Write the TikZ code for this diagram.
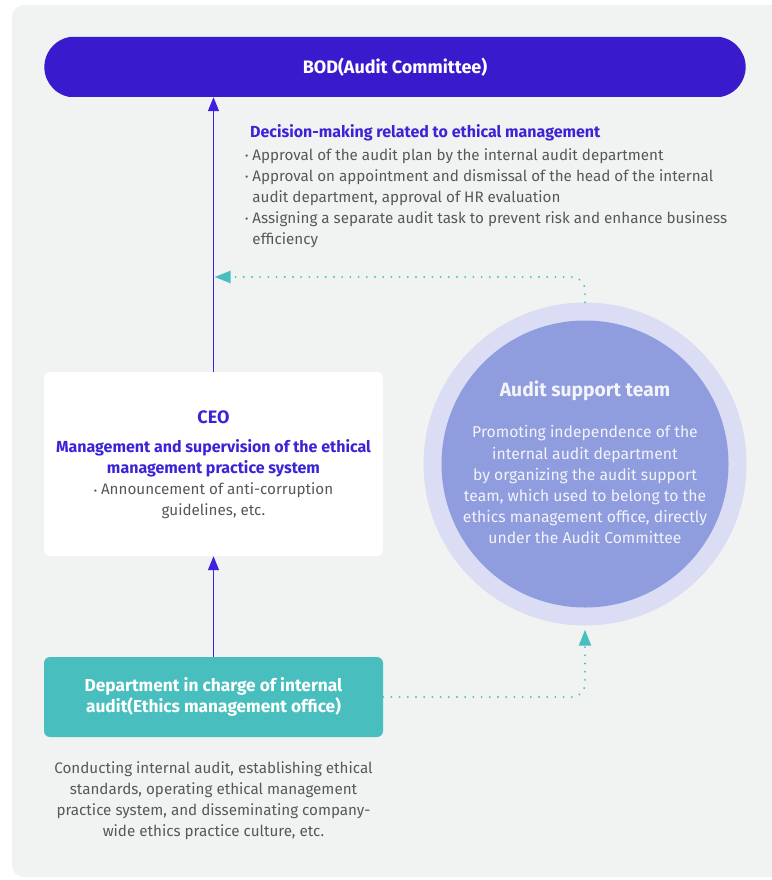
\documentclass[tikz,border=0pt]{standalone}
\usepackage{fontspec}
\setmainfont{Fira Sans}
\usetikzlibrary{arrows.meta,shapes.misc,calc}
\definecolor{bodblue}{HTML}{3A1ACD}
\definecolor{lineblue}{HTML}{4020E0}
\definecolor{txtblue}{HTML}{3B24D6}
\definecolor{tealc}{HTML}{48BFBE}
\definecolor{panelc}{HTML}{F1F3F2}
\definecolor{grytxt}{HTML}{585858}
\definecolor{ringout}{HTML}{DADDF3}
\definecolor{ringin}{HTML}{8F9CDD}
\definecolor{circtxt}{HTML}{F2F3FB}
\newcommand{\bul}{\raisebox{0.6pt}{\fontsize{10}{10}\selectfont•}}
\newcommand{\bluebold}{\bfseries\color{txtblue}\fontsize{16}{21}\selectfont}
\tikzset{
  bodbar/.style={rounded rectangle, rounded rectangle arc length=160, fill=bodblue,
    minimum width=708pt, minimum height=60pt, text=white,
    font=\bfseries\fontsize{18}{20}\selectfont},
  whitebox/.style={fill=white, rounded corners=6pt, minimum width=339pt, minimum height=184pt, inner sep=0pt},
  tealbox/.style={fill=tealc, rounded corners=6pt, minimum width=339pt, minimum height=80pt,
    text=white, align=center, font=\bfseries\fontsize{17.3}{21}\selectfont},
  mainarrow/.style={draw=lineblue, line width=1.3pt, -{Triangle[width=11pt,length=14pt]}},
  dotarrow/.style={draw=tealc, line width=2.1pt, line cap=round, dash pattern=on 0pt off 8.2pt,
    rounded corners=13pt, -{Triangle[width=12pt,length=16pt,fill=tealc]}},
  outerring/.style={circle, fill=ringout, minimum size=323pt, inner sep=0pt},
  innerring/.style={circle, fill=ringin, minimum size=287pt, inner sep=0pt},
  bodytext/.style={text=grytxt, inner sep=0pt, font=\fontsize{15.2}{21}\selectfont},
  circtext/.style={text=circtxt, inner sep=0pt, align=center, font=\fontsize{15.7}{21.2}\selectfont},
}
\begin{document}
\begin{tikzpicture}[x=1pt,y=-1pt]
\useasboundingbox (0,0) rectangle (771,880);
\fill[white] (0,0) rectangle (771,880);
\fill[panelc, rounded corners=12pt] (12,5) rectangle (800,877);

% nodes
\node[bodbar] (bod) at (395,67) {BOD(Audit Committee)};
\node[whitebox] (ceo) at (213.5,464) {};
\node[tealbox] (dept) at (213.5,697) {Department in charge of internal\\audit(Ethics management office)};
\node[outerring] (outer) at (585,464) {};
\node[innerring] (inner) at (585,464) {};

% texts
\node[bodytext, anchor=north west, align=left] (dec) at (245,124)
 {\hspace*{5pt}{\bluebold Decision-making related to ethical management}\\[2pt]
  \bul\ Approval of the audit plan by the internal audit department\\
  \bul\ Approval on appointment and dismissal of the head of the internal\\
  \hphantom{\bul\ }audit department, approval of HR evaluation\\
  \bul\ Assigning a separate audit task to prevent risk and enhance business\\
  \hphantom{\bul\ }efficiency};

\node[bodytext, align=center] (ceot) at (213.5,465)
 {{\bfseries\color{txtblue}\fontsize{18}{21}\selectfont CEO}\\[8pt]
  {\bluebold Management and supervision of the ethical}\\
  {\bluebold management practice system}\\
  \bul\ Announcement of anti-corruption\\
  guidelines, etc.};

\node[bodytext, align=center, anchor=north] (desc) at (213.5,761)
 {Conducting internal audit, establishing ethical\\
  standards, operating ethical management\\
  practice system, and disseminating company-\\
  wide ethics practice culture, etc.};

\node[circtext, anchor=base, font=\bfseries\fontsize{19.3}{21}\selectfont] (astt) at (585,396)
 {Audit support team};
\node[circtext, anchor=north] (ast) at (585,425.5)
 {Promoting independence of the\\
  internal audit department\\
  by organizing the audit support\\
  team, which used to belong to the\\
  ethics management office, directly\\
  under the Audit Committee};

% connectors
\draw[mainarrow] (ceo.north) -- (ceo.north |- bod.south);
\draw[mainarrow] (dept.north) -- (ceo.south);
\coordinate (tip1) at ($(ceo.north |- 0,277)+(1,0)$);
\draw[dotarrow] (outer.north) -- (outer.north |- tip1) -- (tip1);
\coordinate (tip2) at ($(outer.south)+(0,4)$);
\draw[dotarrow] (dept.east) -- (dept.east -| tip2) -- (tip2);
\end{tikzpicture}
\end{document}
